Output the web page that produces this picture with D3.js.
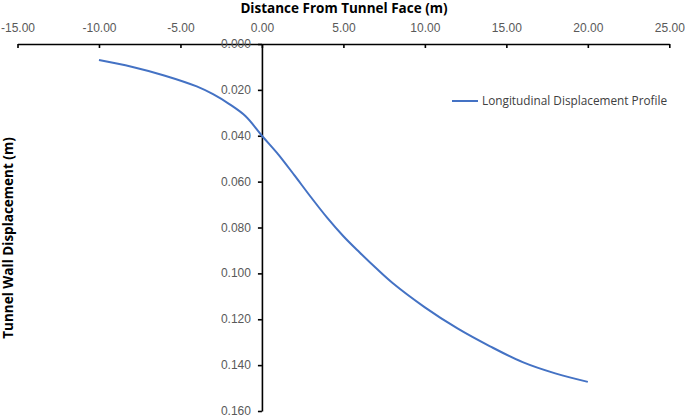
<!DOCTYPE html>
<html><head><meta charset="utf-8">
<script src="https://cdn.jsdelivr.net/npm/d3@7"></script>
<style>body{margin:0;background:#fff}svg{display:block}</style>
</head><body>
<script>
const distance = [-10, -8, -6, -4, -3, -2, -1, 0, 1, 2, 3, 4, 5, 6, 7, 8, 10, 12, 14, 16, 18, 20];
const displacement = [0.0070, 0.0099, 0.0137, 0.0185, 0.0219, 0.0262, 0.0315, 0.0400, 0.0481, 0.0573, 0.0667, 0.0757, 0.0838, 0.0909, 0.0977, 0.1041, 0.1148, 0.1240, 0.1318, 0.1387, 0.1436, 0.1473];
const xTicks = [-15, -10, -5, 0, 5, 10, 15, 20, 25];
const yTicks = [0, 0.02, 0.04, 0.06, 0.08, 0.1, 0.12, 0.14, 0.16];
const seriesName = "Longitudinal Displacement Profile";

const W = 685, H = 417;
const svg = d3.select("body").append("svg").attr("width", W).attr("height", H)
  .style("font-family", "Lato, 'Open Sans', sans-serif");

const x = d3.scaleLinear().domain([-15, 25]).range([17.5, 669.3]);
const y = d3.scaleLinear().domain([0, 0.16]).range([44, 411]);

const fmtX = d => d.toFixed(2);
const fmtY = d => d.toFixed(3);

// X axis (top)
const xAxis = svg.append("g").attr("transform", `translate(0,${y(0)})`)
  .call(d3.axisBottom(x).tickValues(xTicks).tickSize(4).tickFormat(fmtX).tickSizeOuter(0));
xAxis.select(".domain").attr("stroke", "#000").attr("stroke-width", 1.6);
xAxis.selectAll(".tick line").attr("stroke", "#000").attr("stroke-width", 1.6);
xAxis.selectAll(".tick text").attr("y", -12).attr("dy", "0").attr("fill", "#595959").style("font-size", "12px");

// Y axis
const yAxis = svg.append("g").attr("transform", `translate(${x(0)},0)`)
  .call(d3.axisLeft(y).tickValues(yTicks).tickSize(4).tickFormat(fmtY).tickSizeOuter(0));
yAxis.select(".domain").attr("stroke", "#000").attr("stroke-width", 1.6);
yAxis.selectAll(".tick line").attr("stroke", "#000").attr("stroke-width", 1.6);
yAxis.selectAll(".tick text").attr("x", -11).attr("dy", "0.3em").attr("fill", "#595959").style("font-size", "12px");

// Titles
svg.append("text").attr("x", 344).attr("y", 13).attr("text-anchor", "middle")
  .style("font-family", "'Open Sans', sans-serif")
  .style("font-size", "13.5px").style("font-weight", "bold").attr("fill", "#000")
  .text("Distance From Tunnel Face (m)");
svg.append("text").attr("transform", `translate(13,238) rotate(-90)`).attr("text-anchor", "middle")
  .style("font-family", "'Open Sans', sans-serif")
  .style("font-size", "13.5px").style("font-weight", "bold").attr("fill", "#000")
  .text("Tunnel Wall Displacement (m)");

// Line
const data = distance.map((d, i) => ({x: d, y: displacement[i]}));
svg.append("path").datum(data)
  .attr("fill", "none").attr("stroke", "#4472C4").attr("stroke-width", 2)
  .attr("d", d3.line().x(d => x(d.x)).y(d => y(d.y)).curve(d3.curveCatmullRom.alpha(0.5)));

// Legend
const lg = svg.append("g").attr("transform", "translate(452,101)");
lg.append("line").attr("x1", 0).attr("x2", 26).attr("y1", 0).attr("y2", 0)
  .attr("stroke", "#4472C4").attr("stroke-width", 2);
lg.append("text").attr("x", 30).attr("y", 4)
  .style("font-family", "'Open Sans', sans-serif")
  .style("font-size", "11.8px").attr("fill", "#404040").text(seriesName);
</script>
</body></html>
